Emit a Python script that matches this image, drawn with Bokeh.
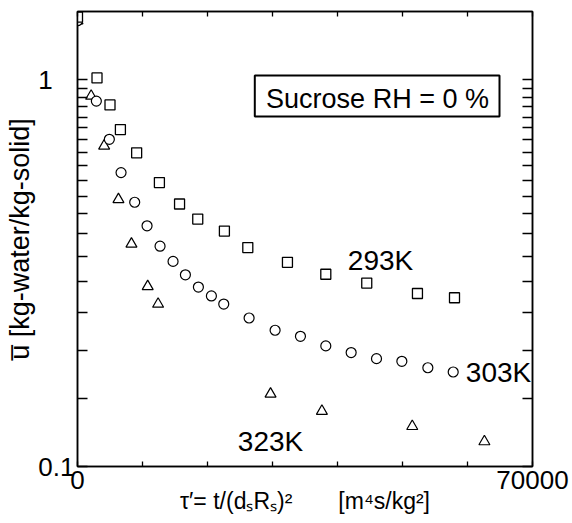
import math
from bokeh.plotting import figure
from bokeh.models import (FixedTicker, LinearAxis, LogAxis, Label, BoxAnnotation,
                          Range1d, BasicTickFormatter)
from bokeh.embed import file_html
from bokeh.resources import INLINE

# ---------------- data ----------------
x_293 = [0, 3000, 5000, 6600, 9100, 12600, 15700, 18500, 22600, 26200, 32300,
         38200, 44500, 52300, 58000]
u_293 = [1.45, 1.01, 0.86, 0.743, 0.647, 0.542, 0.477, 0.436, 0.406, 0.368, 0.337,
         0.314, 0.298, 0.280, 0.273]

x_303 = [0, 2900, 4900, 6700, 8800, 10700, 12700, 14700, 16600, 18600, 20600,
         22500, 26400, 30400, 34300, 38200, 42100, 46000, 49900, 53900, 57800]
u_303 = [1.42, 0.880, 0.701, 0.575, 0.482, 0.419, 0.371, 0.339, 0.313, 0.291, 0.276,
         0.263, 0.242, 0.225, 0.217, 0.205, 0.197, 0.190, 0.187, 0.180, 0.1755]

x_323 = [0, 2100, 4100, 6300, 8300, 10800, 12400, 29700, 37600, 51500, 62600]
u_323 = [1.42, 0.907, 0.674, 0.490, 0.376, 0.292, 0.263, 0.154, 0.139, 0.127, 0.116]

x_ticks = [0, 10000, 20000, 30000, 40000, 50000, 60000, 70000]
x_label_ticks = [0, 70000]
y_ticks = [0.1, 0.15, 0.2, 0.25, 0.3, 0.35, 0.4, 0.45, 0.5, 0.55, 0.6, 0.65, 0.7,
           0.75, 0.8, 0.85, 0.9, 0.95, 1.0]
y_label_ticks = [0.1, 1.0]
y_label_text = ["0.1", "1\u2007\u2008"]
X_MIN, X_MAX = 0, 70000
Y_MIN, Y_MAX = 0.1, 1.5

x_title = "\u03c4\u2032= t/(d\u209bR\u209b)\u00b2\u2003\u2003[m\u2074s/kg\u00b2]"
y_title = "u\u0305 [kg-water/kg-solid]"

# ---------------- layout (page pixels) ----------------
FL, FT, FW, FH = 77, 11, 455, 455   # frame left/top/width/height on the page


def px2x(px):
    return X_MIN + (px - FL) / FW * (X_MAX - X_MIN)


def py2y(py):
    lo, hi = math.log10(Y_MIN), math.log10(Y_MAX)
    return 10 ** (lo + (FT + FH - py) / FH * (hi - lo))


p = figure(frame_width=FW, frame_height=FH, y_axis_type="log",
           x_range=Range1d(X_MIN, X_MAX), y_range=Range1d(Y_MIN, Y_MAX),
           output_backend="svg", toolbar_location=None,
           min_border_left=FL, min_border_top=FT,
           min_border_right=572 - FL - FW, min_border_bottom=523 - FT - FH,
           background_fill_color="white", border_fill_color="white")
p.grid.visible = False
p.outline_line_color = "black"
p.outline_line_width = 1.5

FONT = "Liberation Sans"


def style_axis(ax, ticks, tick_len):
    # ticks are drawn as (label-free) minor ticks
    ax.ticker = FixedTicker(ticks=[], minor_ticks=ticks)
    ax.axis_line_color = "black"
    ax.axis_line_width = 1.5
    ax.major_tick_in = 0
    ax.major_tick_out = 0
    ax.minor_tick_in = tick_len
    ax.minor_tick_out = 0
    ax.minor_tick_line_width = 1.3
    ax.minor_tick_line_color = "black"
    ax.major_label_standoff = 0
    ax.axis_label = None


style_axis(p.xaxis[0], x_ticks, 5)
style_axis(p.yaxis[0], y_ticks, 10)
top_ax = LinearAxis()
style_axis(top_ax, x_ticks, 5)
p.add_layout(top_ax, "above")
right_ax = LogAxis()
style_axis(right_ax, y_ticks, 10)
p.add_layout(right_ax, "right")


def label_axis(ax, ticks, standoff, title, title_size, title_standoff):
    ax.ticker = FixedTicker(ticks=ticks, minor_ticks=[])
    ax.axis_line_color = None
    ax.major_tick_in = 0
    ax.major_tick_out = 0
    ax.major_tick_line_color = None
    ax.major_label_standoff = standoff
    ax.major_label_text_font = FONT
    ax.major_label_text_font_size = "26px"
    ax.major_label_text_color = "black"
    ax.axis_label = title
    ax.axis_label_text_font = FONT
    ax.axis_label_text_font_size = f"{title_size}px"
    ax.axis_label_text_font_style = "normal"
    ax.axis_label_text_color = "black"
    ax.axis_label_standoff = title_standoff


x_lab_ax = LinearAxis(formatter=BasicTickFormatter(use_scientific=False))
label_axis(x_lab_ax, x_label_ticks, 4, x_title, 23, -4)
p.add_layout(x_lab_ax, "below")

y_lab_ax = LogAxis(formatter=BasicTickFormatter(use_scientific=False))
label_axis(y_lab_ax, y_label_ticks, 3, y_title, 27, 0)
y_lab_ax.major_label_overrides = {t: s for t, s in zip(y_label_ticks, y_label_text)}
p.add_layout(y_lab_ax, "left")

# ---------------- markers ----------------
p.scatter(x_323, u_323, marker="triangle", size=11, fill_color="white",
          line_color="black", line_width=1.2)
p.scatter(x_303, u_303, marker="circle", size=10, fill_color="white",
          line_color="black", line_width=1.2)
p.scatter(x_293, u_293, marker="square", size=10, fill_color="white",
          line_color="black", line_width=1.3)


def lab(text, px, py, size):
    p.add_layout(Label(x=px2x(px), y=py2y(py), text=text, text_font=FONT,
                       text_font_size=f"{size}px", text_align="center",
                       text_baseline="middle", text_color="black"))


# series labels
lab("293K", 380, 259.5, 28)
lab("303K", 498, 372, 28)
lab("323K", 270, 441, 28)

# legend-like box
p.add_layout(BoxAnnotation(left=px2x(254.3), right=px2x(499), top=py2y(75), bottom=py2y(116),
                           fill_color="white", fill_alpha=1.0, line_color="black",
                           line_alpha=1.0, line_width=2))
lab("Sucrose RH = 0 %", 377, 98.5, 27)

open("out.html", "w").write(file_html(p, INLINE))
